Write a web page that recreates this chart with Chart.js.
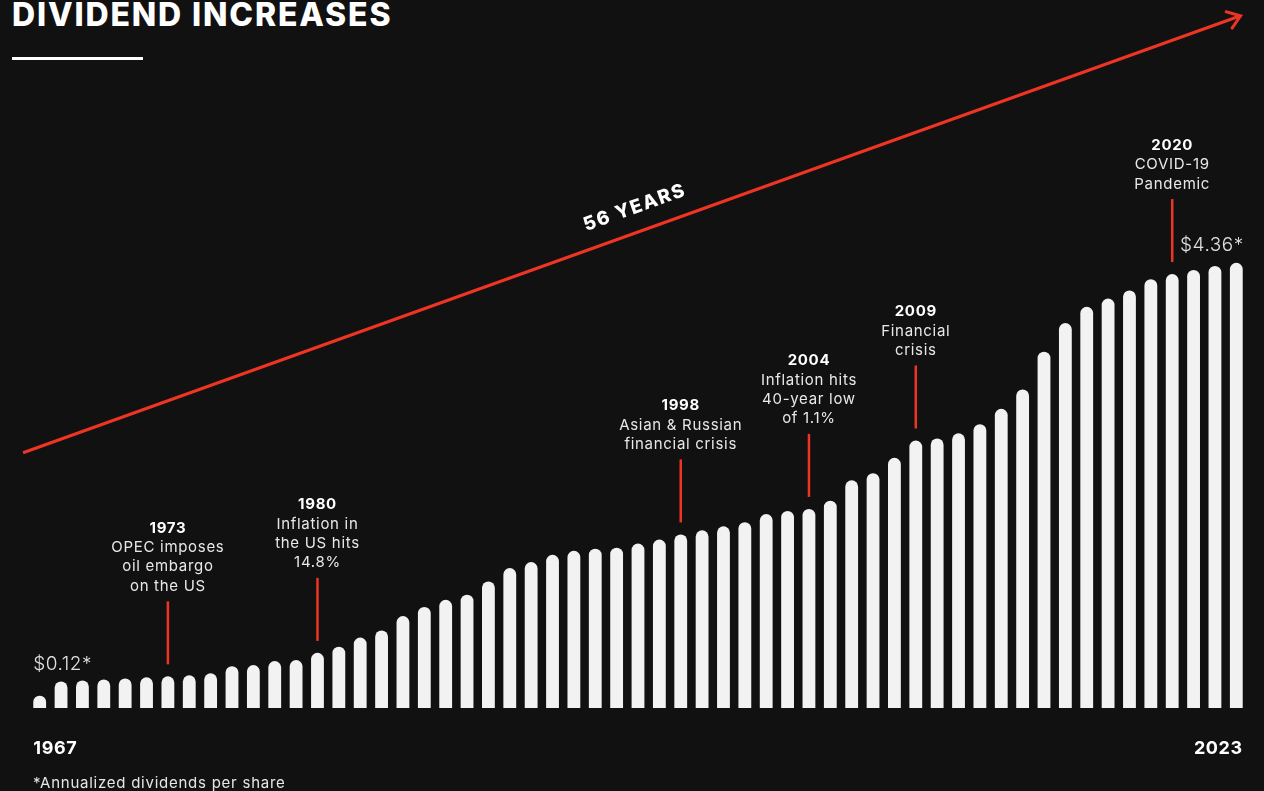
<!DOCTYPE html>
<html>
<head>
<meta charset="utf-8">
<script src="https://cdn.jsdelivr.net/npm/chart.js@4.4.1/dist/chart.umd.min.js"></script>
<style>
  html, body { margin: 0; padding: 0; background: #111111; }
  #wrap { position: relative; width: 1264px; height: 791px; background: #111111; overflow: hidden; }
  #c { position: absolute; left: 0; top: 0; }
  .title { position: absolute; left: 12px; top: -5px; margin: 0; font-family: Inter, "DejaVu Sans", sans-serif; font-weight: 800; font-size: 32px; line-height: 40px; color: #ffffff; letter-spacing: 1.85px; white-space: nowrap; }
  .rule { position: absolute; left: 12px; top: 57px; width: 131px; height: 3px; background: #ffffff; }
  .note { position: absolute; left: 33px; top: 773px; font-family: Inter, sans-serif; font-size: 15px; line-height: 20px; color: #e6e6e6; letter-spacing: 0.75px; white-space: nowrap; }
</style>
</head>
<body>
<div id="wrap">
  <h1 class="title">DIVIDEND INCREASES</h1>
  <div class="rule"></div>
  <canvas id="c" width="1264" height="791"></canvas>
  <div class="note">*Annualized dividends per share</div>
</div>
<script>
// ---- data ----
const years = [];
for (let y = 1967; y <= 2023; y++) years.push(String(y));
const dividends = [0.12,0.26,0.27,0.28,0.29,0.30,0.31,0.32,0.34,0.41,0.42,0.46,0.47,0.54,0.60,0.69,0.76,0.90,0.99,
  1.06,1.11,1.24,1.37,1.43,1.50,1.54,1.56,1.57,1.61,1.65,1.70,1.74,1.78,1.82,1.90,1.93,1.95,2.03,
  2.23,2.30,2.45,2.62,2.64,2.69,2.78,2.93,3.12,3.49,3.77,3.93,4.01,4.09,4.20,4.25,4.29,4.33,4.36];
const firstLabel = '$0.12*';
const lastLabel = '$4.36*';
const eventYears = ['1973','1980','1998','2004','2009','2020'];
const eventBarIndex = [6, 13, 30, 36, 41, 53];
const eventText = [
  ['OPEC imposes','oil embargo','on the US'],
  ['Inflation in','the US hits','14.8%'],
  ['Asian & Russian','financial crisis'],
  ['Inflation hits','40-year low','of 1.1%'],
  ['Financial','crisis'],
  ['COVID-19','Pandemic']
];
const spanLabel = '56 YEARS';
const yMax = 5.955;

const RED = '#ee3524';
const FONT = 'Inter, "DejaVu Sans", sans-serif';

const overlay = {
  id: 'overlay',
  afterDatasetsDraw(chart) {
    const ctx = chart.ctx;
    const xs = chart.scales.x, ys = chart.scales.y;
    const meta = chart.getDatasetMeta(0);
    ctx.save();
    // Arrow spanning the years
    const x0 = xs.getPixelForValue(-0.78), y0 = ys.getPixelForValue(2.50);
    const x1 = xs.getPixelForValue(56.2), y1 = ys.getPixelForValue(6.78);
    ctx.strokeStyle = RED; ctx.lineWidth = 3; ctx.lineCap = 'butt';
    ctx.beginPath(); ctx.moveTo(x0, y0); ctx.lineTo(x1, y1); ctx.stroke();
    const ang = Math.atan2(y1 - y0, x1 - x0);
    const head = 15, spread = 0.62;
    ctx.lineCap = 'round';
    ctx.beginPath();
    ctx.moveTo(x1 - head * Math.cos(ang - spread), y1 - head * Math.sin(ang - spread));
    ctx.lineTo(x1, y1);
    ctx.lineTo(x1 - head * Math.cos(ang + spread), y1 - head * Math.sin(ang + spread));
    ctx.stroke();
    // span label
    const t = 0.509;
    const mx = x0 + (x1 - x0) * t, my = y0 + (y1 - y0) * t;
    ctx.save();
    ctx.translate(mx, my);
    ctx.rotate(ang);
    ctx.fillStyle = '#ffffff';
    ctx.font = '800 19px ' + FONT;
    ctx.letterSpacing = '1.6px';
    ctx.textAlign = 'center'; ctx.textBaseline = 'middle';
    ctx.fillText(spanLabel, 0, -24);
    ctx.restore();

    // Event markers
    eventBarIndex.forEach((bi, k) => {
      const bar = meta.data[bi];
      const cx = bar.x;
      const lineBottom = bar.y - 12;
      const lineTop = lineBottom - 63;
      ctx.strokeStyle = RED; ctx.lineWidth = 2.5; ctx.lineCap = 'butt';
      ctx.beginPath(); ctx.moveTo(cx, lineTop); ctx.lineTo(cx, lineBottom); ctx.stroke();
      const lines = eventText[k];
      const lh = 19.4;
      let yLast = lineTop - 15;
      ctx.textAlign = 'center'; ctx.textBaseline = 'middle';
      ctx.letterSpacing = '0.7px';
      lines.forEach((s, j) => {
        ctx.font = '400 15px ' + FONT;
        ctx.fillStyle = '#e8e8e8';
        ctx.fillText(s, cx, yLast - lh * (lines.length - 1 - j));
      });
      ctx.font = '700 15px ' + FONT;
      ctx.fillStyle = '#ffffff';
      ctx.fillText(eventYears[k], cx, yLast - lh * lines.length);
    });

    // value labels
    const b0 = meta.data[0], bN = meta.data[meta.data.length - 1];
    ctx.font = '300 19px ' + FONT;
    ctx.fillStyle = '#e0e0e0';
    ctx.letterSpacing = '0.5px';
    ctx.textBaseline = 'alphabetic';
    ctx.textAlign = 'left';
    ctx.fillText(firstLabel, b0.x - b0.width / 2, b0.y - 26);
    ctx.textAlign = 'right';
    ctx.fillText(lastLabel, bN.x + bN.width / 2 + 1, bN.y - 12);

    // axis end labels
    ctx.font = '700 18px ' + FONT;
    ctx.fillStyle = '#ffffff';
    ctx.letterSpacing = '0.6px';
    ctx.textBaseline = 'middle';
    ctx.textAlign = 'left';
    ctx.fillText(years[0], b0.x - b0.width / 2, 749);
    ctx.textAlign = 'right';
    ctx.fillText(years[years.length - 1], bN.x + bN.width / 2, 749);
    ctx.restore();
  }
};

new Chart(document.getElementById('c'), {
  type: 'bar',
  data: {
    labels: years,
    datasets: [{
      data: dividends,
      backgroundColor: '#f2f2f2',
      borderWidth: 0,
      borderRadius: 7,
      borderSkipped: 'start',
      barPercentage: 0.6,
      categoryPercentage: 1.0
    }]
  },
  options: {
    responsive: false,
    animation: false,
    layout: { padding: { left: 29, right: 17, top: 100, bottom: 83 } },
    plugins: { legend: { display: false }, tooltip: { enabled: false }, title: { display: false } },
    scales: {
      x: { display: false, offset: true, grid: { display: false } },
      y: { display: false, min: 0, max: yMax, grid: { display: false } }
    }
  },
  plugins: [overlay]
});
</script>
</body>
</html>
